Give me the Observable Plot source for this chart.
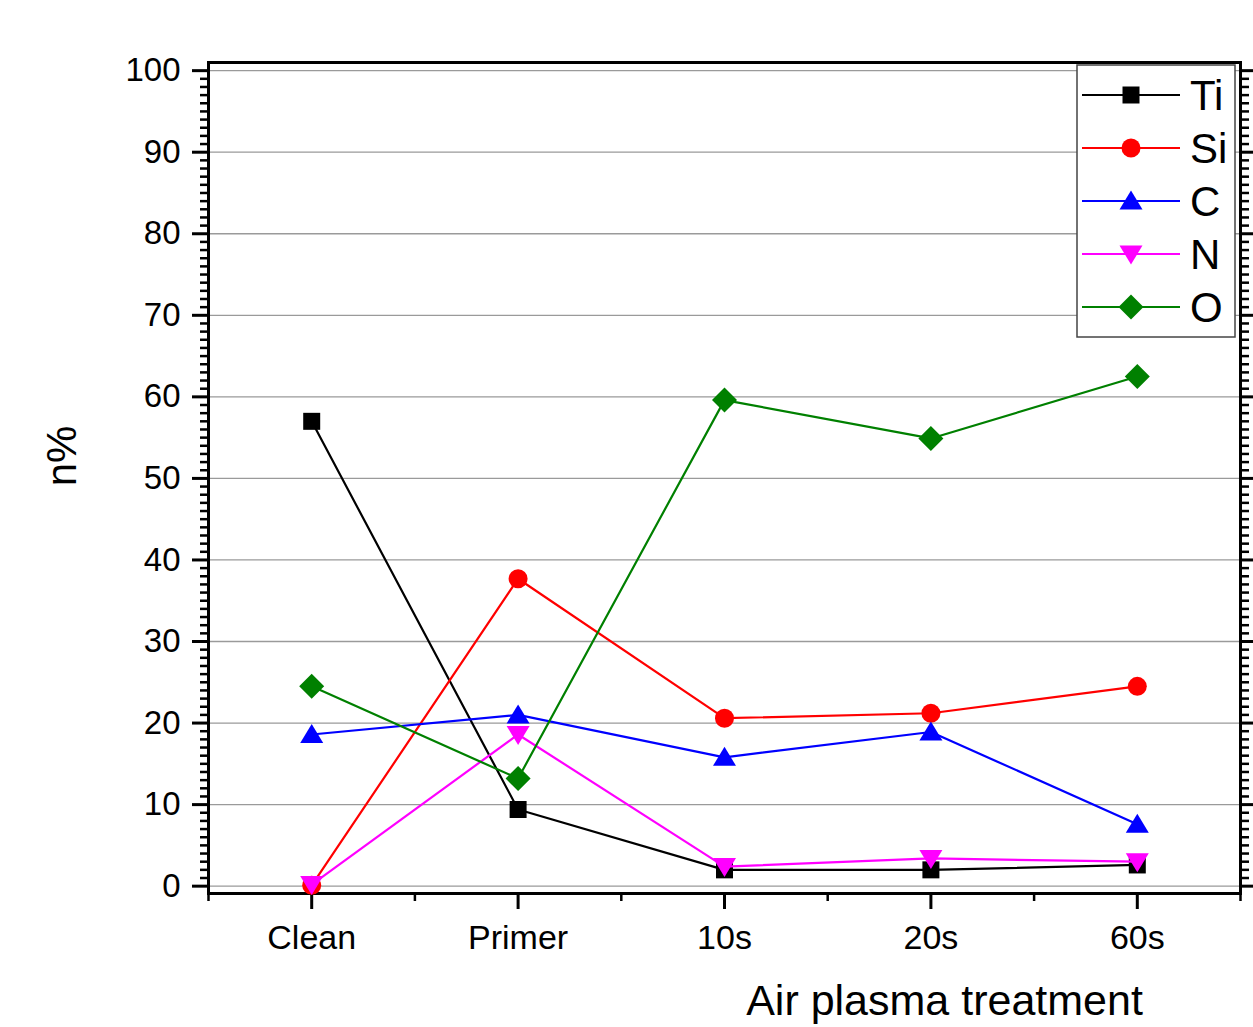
<!DOCTYPE html>
<html>
<head>
<meta charset="utf-8">
<script src="https://cdn.jsdelivr.net/npm/d3@7"></script>
<script src="https://cdn.jsdelivr.net/npm/@observablehq/plot@0.6"></script>
<style>
  html, body { margin: 0; padding: 0; background: #fff; }
  #wrap { position: relative; width: 1253px; height: 1027px; overflow: hidden; }
  #legend { position: absolute; left: 0; top: 0; pointer-events: none; }
</style>
</head>
<body>
<div id="wrap"></div>
<script>
const categories = ["Clean", "Primer", "10s", "20s", "60s"];
const seriesNames = ["Ti", "Si", "C", "N", "O"];
const seriesColors = ["#000000", "#ff0000", "#0000ff", "#ff00ff", "#008000"];
const Ti = [57.0, 9.4, 2.0, 2.0, 2.6];
const Si = [0.1, 37.7, 20.6, 21.2, 24.5];
const C  = [18.6, 21.0, 15.8, 18.9, 7.6];
const N  = [0.2, 18.6, 2.4, 3.4, 3.0];
const O  = [24.5, 13.2, 59.6, 54.9, 62.5];
const yMajor = d3.range(0, 101, 10);
const yMinor = d3.range(0, 101, 1).filter(v => v % 10 !== 0);
const xMinor = d3.range(-0.5, 5, 1);

const seriesValues = [Ti, Si, C, N, O];

// custom symbols (fixed pixel shapes)
const symSquare = {draw(ctx) { ctx.rect(-8.5, -8.5, 17, 17); }};
const symCircle = {draw(ctx) { ctx.moveTo(9.5, 0); ctx.arc(0, 0, 9.5, 0, 2 * Math.PI); }};
const symTriUp = {draw(ctx) { ctx.moveTo(0, -10.5); ctx.lineTo(11.5, 8.5); ctx.lineTo(-11.5, 8.5); ctx.closePath(); }};
const symTriDown = {draw(ctx) { ctx.moveTo(0, 10.5); ctx.lineTo(11.5, -8.5); ctx.lineTo(-11.5, -8.5); ctx.closePath(); }};
const symDiamond = {draw(ctx) { ctx.moveTo(0, -12.5); ctx.lineTo(12.5, 0); ctx.lineTo(0, 12.5); ctx.lineTo(-12.5, 0); ctx.closePath(); }};
const seriesSymbols = [symSquare, symCircle, symTriUp, symTriDown, symDiamond];

const font = "'Liberation Sans', Arial, sans-serif";

const seriesMarks = [];
seriesNames.forEach((name, k) => {
  const data = seriesValues[k].map((v, i) => ({i, v}));
  seriesMarks.push(Plot.line(data, {x: "i", y: "v", stroke: seriesColors[k], strokeWidth: 2.2}));
  seriesMarks.push(Plot.dot(data, {x: "i", y: "v", symbol: () => seriesSymbols[k], r: 9, fill: seriesColors[k], stroke: "none"}));
});

const chart = Plot.plot({
  width: 1253,
  height: 1027,
  marginLeft: 208,
  marginRight: 13,
  marginTop: 62,
  marginBottom: 134,
  style: {fontFamily: font, background: "#fff", color: "#000", overflow: "visible"},
  x: {type: "linear", domain: [-0.5, 4.5], axis: null},
  y: {domain: [-0.9, 101], axis: null},
  marks: [
    Plot.ruleY(yMajor, {stroke: "#9a9a9a", strokeWidth: 1.3}),
    // left axis
    Plot.axisY({anchor: "left", ticks: yMajor, tickSize: 16, tickPadding: 12, tickFormat: d => String(d), fontSize: 33, strokeWidth: 3, label: null}),
    Plot.axisY({anchor: "left", ticks: yMinor, tickSize: 8, tickFormat: () => "", strokeWidth: 2.5, label: null}),
    // right axis
    Plot.axisY({anchor: "right", ticks: yMajor, tickSize: 16, tickFormat: () => "", strokeWidth: 3, label: null}),
    Plot.axisY({anchor: "right", ticks: yMinor, tickSize: 8, tickFormat: () => "", strokeWidth: 2.5, label: null}),
    // bottom axis
    Plot.axisX({anchor: "bottom", ticks: [0, 1, 2, 3, 4], tickSize: 16, tickPadding: 15, tickFormat: i => categories[i], fontSize: 34, strokeWidth: 3, label: null}),
    Plot.axisX({anchor: "bottom", ticks: xMinor, tickSize: 8, tickFormat: () => "", strokeWidth: 2.5, label: null}),
    Plot.frame({stroke: "#000", strokeWidth: 3}),
    ...seriesMarks,
    Plot.text(["Air plasma treatment"], {frameAnchor: "bottom", dx: 220, dy: 108, lineAnchor: "middle", textAnchor: "middle", fontSize: 43, fill: "#000"}),
    Plot.text(["n%"], {frameAnchor: "left", dx: -146, dy: -22, rotate: -90, lineAnchor: "middle", textAnchor: "middle", fontSize: 42, fill: "#000"})
  ]
});

const wrap = document.getElementById("wrap");
wrap.appendChild(chart);

// Legend overlay
const lg = d3.select(wrap).append("svg")
  .attr("id", "legend")
  .attr("width", 1253).attr("height", 1027);
const box = {x: 1077, y: 65, w: 158, h: 272};
lg.append("rect").attr("x", box.x).attr("y", box.y).attr("width", box.w).attr("height", box.h)
  .attr("fill", "#fff").attr("stroke", "#444").attr("stroke-width", 1.5);
seriesNames.forEach((name, k) => {
  const cy = 95 + k * 53;
  lg.append("line").attr("x1", 1082).attr("x2", 1180).attr("y1", cy).attr("y2", cy)
    .attr("stroke", seriesColors[k]).attr("stroke-width", 2);
  lg.append("path").attr("d", d3.symbol(seriesSymbols[k])()).attr("transform", `translate(1131,${cy})`)
    .attr("fill", seriesColors[k]);
  lg.append("text").attr("x", 1190).attr("y", cy + 15).text(name)
    .attr("font-family", font).attr("font-size", 42).attr("fill", "#000");
});
</script>
</body>
</html>
